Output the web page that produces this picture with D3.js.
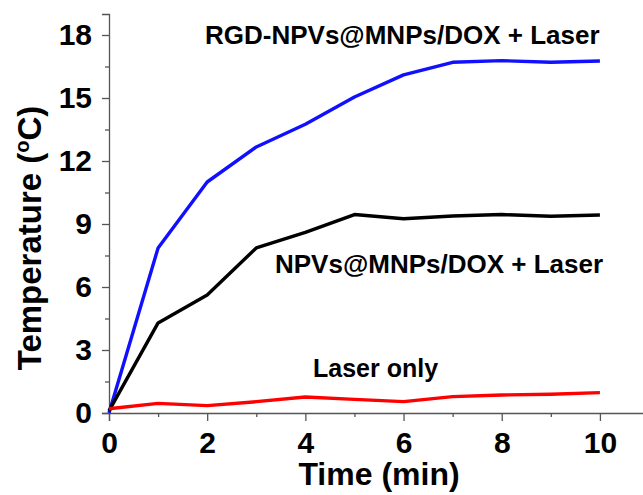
<!DOCTYPE html>
<html>
<head>
<meta charset="utf-8">
<script src="https://cdn.jsdelivr.net/npm/d3@7"></script>
<style>
  html, body { margin: 0; padding: 0; background: #fff; }
  svg { display: block; }
  text { font-family: "Liberation Sans", Arial, sans-serif; font-weight: bold; fill: #000; }
</style>
</head>
<body>
<svg id="chart" width="643" height="495"></svg>
<script>
// Data
const time = [0, 1, 2, 3, 4, 5, 6, 7, 8, 9, 10];
const rgdLaser = [0, 7.86, 11.0, 12.67, 13.75, 15.05, 16.1, 16.7, 16.78, 16.7, 16.76];
const npvLaser = [0.1, 4.29, 5.62, 7.86, 8.6, 9.45, 9.25, 9.38, 9.45, 9.37, 9.43];
const laserOnly = [0.2, 0.46, 0.35, 0.54, 0.76, 0.65, 0.54, 0.78, 0.86, 0.89, 0.97];
const xTicks = [0, 2, 4, 6, 8, 10];
const xMinor = [1, 3, 5, 7, 9];
const yTicks = [0, 3, 6, 9, 12, 15, 18];
const yMinor = [1.5, 4.5, 7.5, 10.5, 13.5, 16.5];

const series = [
  { name: "RGD-NPVs@MNPs/DOX + Laser", values: rgdLaser, color: "#1010ff" },
  { name: "NPVs@MNPs/DOX + Laser", values: npvLaser, color: "#000000" },
  { name: "Laser only", values: laserOnly, color: "#ff0000" }
];

const svg = d3.select("#chart");
const x = d3.scaleLinear().domain([0, 11]).range([109, 649]);
const y = d3.scaleLinear().domain([0, 19]).range([413, 14]);

// Axes
const xAxis = svg.append("g").attr("transform", "translate(0,413)");
xAxis.call(d3.axisBottom(x).tickValues(xTicks).tickSize(8).tickPadding(10).tickFormat(d3.format("d")));
const xAxisMinor = svg.append("g").attr("transform", "translate(0,413)");
xAxisMinor.call(d3.axisBottom(x).tickValues(xMinor).tickSize(4).tickFormat(""));

const yAxis = svg.append("g").attr("transform", "translate(109,0)");
yAxis.call(d3.axisLeft(y).tickValues(yTicks).tickSize(7).tickPadding(10).tickFormat(d3.format("d")));
const yAxisMinor = svg.append("g").attr("transform", "translate(109,0)");
yAxisMinor.call(d3.axisLeft(y).tickValues(yMinor).tickSize(4).tickFormat(""));

svg.selectAll(".domain").attr("stroke", "#555").attr("stroke-width", 1.3);
svg.selectAll(".tick line").attr("stroke", "#555").attr("stroke-width", 1.3);
xAxisMinor.select(".domain").remove();
yAxisMinor.select(".domain").remove();
svg.selectAll(".tick text")
  .attr("font-family", "'Liberation Sans', Arial, sans-serif")
  .attr("font-weight", "bold")
  .attr("font-size", 30)
  .attr("fill", "#000");
xAxis.selectAll(".tick text").attr("dy", "0.72em");

// Lines
const line = d3.line().x((d, i) => x(time[i])).y(d => y(d));
svg.selectAll(".series")
  .data(series)
  .enter().append("path")
  .attr("class", "series")
  .attr("d", d => line(d.values))
  .attr("fill", "none")
  .attr("stroke", d => d.color)
  .attr("stroke-width", 3.4)
  .attr("stroke-linejoin", "round");

// Annotations
svg.append("text").attr("x", 205).attr("y", 44).attr("font-size", 26).text(series[0].name);
svg.append("text").attr("x", 275).attr("y", 273).attr("font-size", 26).text(series[1].name);
svg.append("text").attr("x", 313).attr("y", 377).attr("font-size", 25).text(series[2].name);

// Axis titles
svg.append("text")
  .attr("x", x(5.5)).attr("y", 485)
  .attr("text-anchor", "middle")
  .attr("font-size", 32)
  .text("Time (min)");

const yt = svg.append("text")
  .attr("transform", "translate(41,238) rotate(-90)")
  .attr("text-anchor", "middle")
  .attr("font-size", 33);
yt.append("tspan").text("Temperature (");
yt.append("tspan").attr("font-size", 20).attr("dy", -12).text("o");
yt.append("tspan").attr("dy", 12).text("C)");
</script>
</body>
</html>
